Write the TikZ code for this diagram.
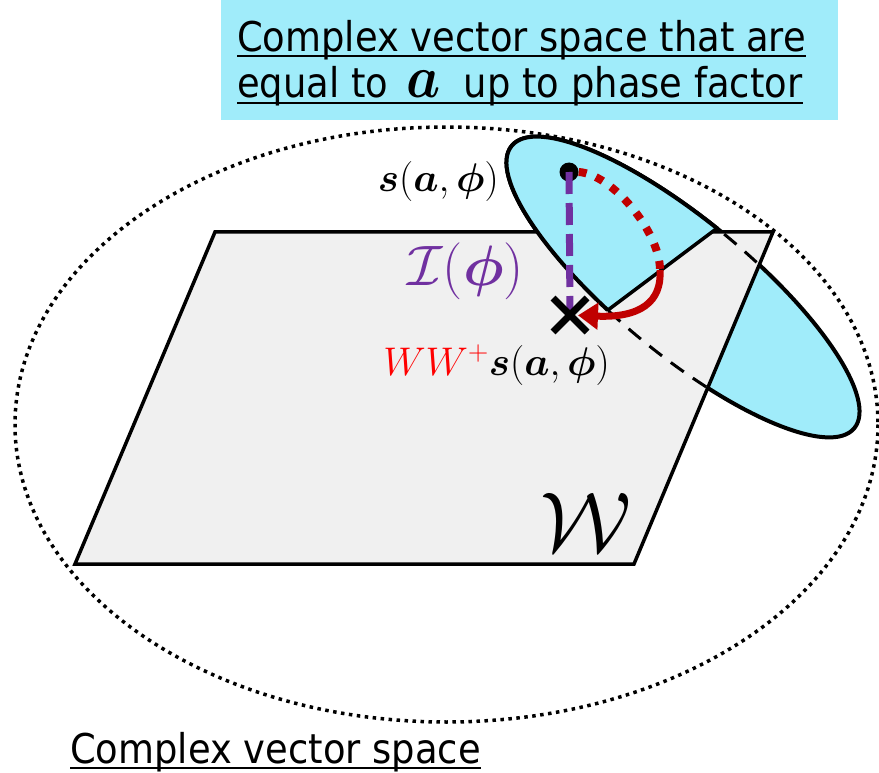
\RequirePackage{fix-cm}
\documentclass[tikz,border=0pt]{standalone}
\usepackage{amsmath,bm}
\usepackage{fontspec}
\newfontfamily\tahoma[FakeStretch=0.9]{DejaVu Sans}
\usetikzlibrary{arrows.meta,intersections}
\definecolor{cyanfill}{RGB}{160,236,250}
\definecolor{planegray}{RGB}{240,240,240}
\definecolor{purp}{RGB}{112,48,160}
\definecolor{darkred}{RGB}{192,0,0}
\tikzset{
  txt/.style={inner sep=0pt, font=\tahoma\fontsize{41}{49}\selectfont},
  ul/.style={line width=2.6pt},
  bigdots/.style={line width=3.5pt, dash pattern=on 3.5pt off 4.5pt},
  hiddenline/.style={line width=3pt, dash pattern=on 16pt off 11pt},
  outline/.style={line width=4pt, line join=round},
  planeline/.style={line width=3.5pt, line join=miter},
  mlabel/.style={inner sep=0pt, font=\fontsize{40}{40}\selectfont},
  leaf/.style={rotate around={-39.5:(683,287)}},
}
\begin{document}
\begin{tikzpicture}[x=1pt,y=-1pt]
\useasboundingbox (0,0) rectangle (879,773);
% top box
\fill[cyanfill] (221,0) rectangle (838,120);
\node[txt, anchor=base west] (l1) at (237,52) {Complex vector space that are};
\node[txt, anchor=base west] (l2) at (237,98) {equal to\hspace{6pt} \smash{\scalebox{0.9}[1]{\fontsize{60}{60}\selectfont$\bm{a}$}}\hspace{12pt} up to phase factor};
\draw[ul] ([yshift=-4pt]l1.base west) -- ([yshift=-4pt]l1.base east);
\draw[ul] ([yshift=-5pt]l2.base west) -- ([yshift=-5pt]l2.base east);
% big dotted ellipse
\draw[bigdots] (446.5,424.5) ellipse (431.5 and 297.5);
% cyan ellipse (full, behind)
\path[name path=E, leaf] (683,287) ellipse (222 and 67);
\fill[cyanfill, leaf] (683,287) ellipse (222 and 67);
\draw[outline, leaf] (683,287) ellipse (222 and 67);
% plane
\coordinate (p1) at (215,232);
\coordinate (p2) at (773,232);
\coordinate (p3) at (634,564);
\coordinate (p4) at (75,564);
\filldraw[planeline, fill=planegray] (p1) -- (p2) -- (p3) -- (p4) -- cycle;
\begin{scope}
  \clip (p1) -- (p2) -- (p3) -- (p4) -- cycle;
  \draw[hiddenline, leaf] (683,287) ellipse (222 and 67);
\end{scope}
% upper visible piece
\path[name path=L] (540,361) -- (780,181);
\path[name intersections={of=E and L, by={c1,c2}}];
\begin{scope}
  \clip (296,544) -- (1024,-2) -- (790,-314) -- (62,232) -- cycle;
  \fill[cyanfill, leaf] (683,287) ellipse (222 and 67);
  \draw[outline, leaf] (683,287) ellipse (222 and 67);
\end{scope}
\draw[line width=3.5pt, line cap=round] (c1) -- (c2);
% markers
\node[circle, fill=black, minimum size=19pt, inner sep=0pt] (dot) at (569,172) {};
\coordinate (xm) at (570,315);
\coordinate (arcend) at (660,270);
\draw[purp, line width=7pt, dash pattern=on 22pt off 9pt] (dot.center) -- (xm);
\draw[darkred, line width=8pt, dash pattern=on 8pt off 10pt] (dot.east) .. controls (612,174) and (660,232) .. (arcend);
\draw[darkred, line width=7pt, -{Triangle[length=20pt,width=26pt]}, shorten >=8pt] (arcend) .. controls (662,302) and (640,318) .. (xm);
\draw[line width=7pt] ([shift={(-17,-17)}]xm) -- ([shift={(17,17)}]xm);
\draw[line width=7pt] ([shift={(-17,17)}]xm) -- ([shift={(17,-17)}]xm);
% labels
\node[mlabel, anchor=base east] (slab) at (499,192) {$\bm{s}(\bm{a},\bm{\phi})$};
\node[mlabel, anchor=base east, text=purp, font=\fontsize{57}{57}\selectfont] (ilab) at (524,285) {$\mathcal{I}(\bm{\phi})$};
\node[mlabel, anchor=base east] (wlab) at (610,375) {$\color{red}WW^{+}\color{black}\bm{s}(\bm{a},\bm{\phi})$};
\node[mlabel, anchor=base west, font=\fontsize{85}{85}\selectfont] (wcal) at (540,551) {$\mathcal{W}$};
% bottom caption
\node[txt, anchor=base west] (l3) at (70,763) {Complex vector space};
\draw[ul] ([yshift=-5pt]l3.base west) -- ([yshift=-5pt]l3.base east);
\end{tikzpicture}
\end{document}
